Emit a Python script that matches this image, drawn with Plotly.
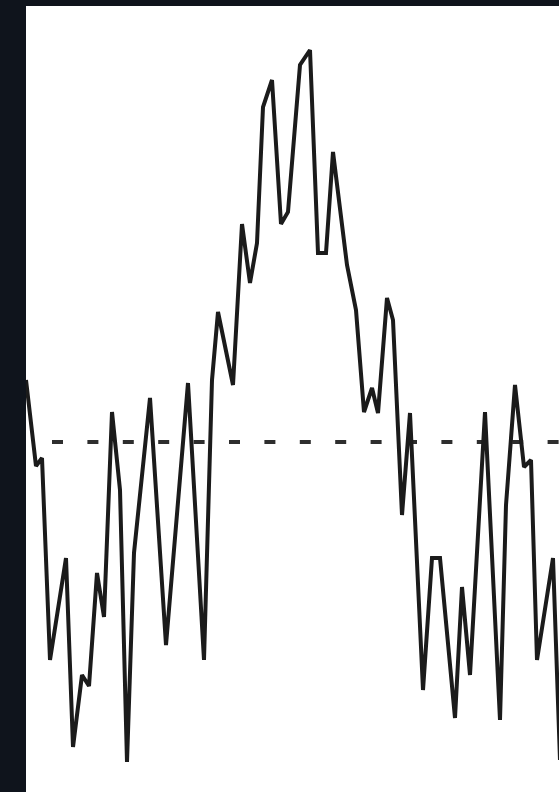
import plotly.graph_objects as go

# Signal trace: sample positions and values (baseline at 0)
t = [0, 10, 16, 24, 40, 47, 56, 63, 71, 78, 86, 94, 101, 108, 124, 140, 162,
     178, 186, 192, 207, 216, 224, 231, 237, 246, 255, 262, 274, 284, 292, 300, 307,
     321, 330, 338, 346, 352, 361, 367, 376, 384, 397, 406, 414, 429, 436, 444, 459,
     474, 480, 489, 498, 505, 511, 527, 534]
signal = [0.62, -0.24, -0.16, -2.18, -1.16, -3.05, -2.33, -2.44, -1.31, -1.75, 0.30,
          -0.48, -3.20, -1.11, 0.44, -2.03, 0.59, -2.18, 0.62, 1.30, 0.57, 2.18,
          1.59, 1.99, 3.35, 3.62, 2.18, 2.30, 3.77, 3.92, 1.89, 1.89, 2.90, 1.77, 1.32,
          0.30, 0.54, 0.29, 1.44, 1.22, -0.73, 0.29, -2.48, -1.16, -1.16, -2.76, -1.45,
          -2.33, 0.30, -2.78, -0.63, 0.57, -0.25, -0.18, -2.18, -1.16, -3.18]

baseline = 0.0
baseline_start = 26

fig = go.Figure()
fig.add_trace(go.Scatter(
    x=t, y=signal, mode="lines",
    line=dict(color="#1b1b1b", width=4),
    hoverinfo="skip", showlegend=False,
))

fig.add_shape(
    type="line", xref="x", yref="y",
    x0=baseline_start, x1=533, y0=baseline, y1=baseline,
    line=dict(color="#2e2e2e", width=3.8, dash="11px,24.4px"),
    layer="below",
)

fig.update_xaxes(range=[0, 533], visible=False, fixedrange=True)
fig.update_yaxes(range=[-3.50, 4.36], visible=False, fixedrange=True)

fig.update_layout(
    width=559, height=792,
    margin=dict(l=26, r=0, t=6, b=0),
    paper_bgcolor="#0f141c",
    plot_bgcolor="#ffffff",
    showlegend=False,
)

# slight softening of the whole drawing
soften = "var gd = document.getElementById('{plot_id}'); if (gd) { gd.style.filter = 'blur(0.7px)'; }"

fig.write_html("out.html", config={"displayModeBar": False}, post_script=soften)
